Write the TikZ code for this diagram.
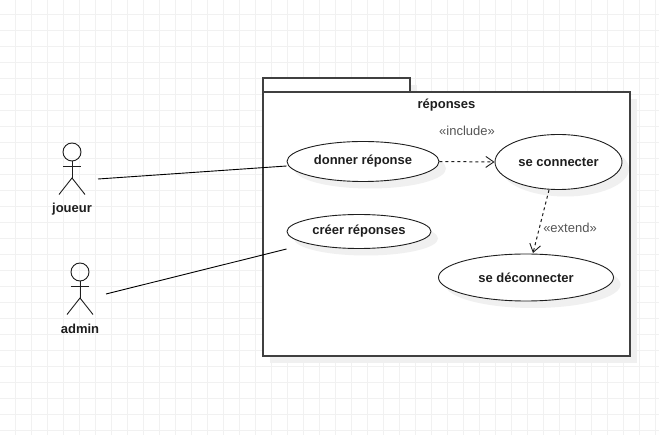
\documentclass[tikz,border=0pt]{standalone}
\usepackage{fontspec}
\setmainfont{Liberation Sans}
\usetikzlibrary{shapes.geometric,arrows.meta,shadows}
\definecolor{gridc}{HTML}{F1F1F1}
\definecolor{shad}{HTML}{F0F0F0}
\definecolor{inkc}{HTML}{1E1E1E}
\definecolor{labc}{HTML}{555555}
\tikzset{
 x=1pt,y=-1pt,
 gridline/.style={gridc,line width=1pt},
 pkg/.style={draw=inkc!85!white,line width=1.2pt,fill=white},
 softshadow/.style={drop shadow={shadow xshift=7pt,shadow yshift=-7pt,fill=shad,opacity=1}},
 usecase/.style={ellipse,draw=inkc,line width=0.9pt,fill=white,inner sep=0pt,softshadow,
   font=\fontsize{13}{15}\selectfont\bfseries,text=inkc},
 actorname/.style={font=\fontsize{13}{15}\selectfont\bfseries,text=inkc,inner sep=0pt},
 stereo/.style={font=\fontsize{13}{15}\selectfont,text=labc,inner sep=0pt},
 pkgtitle/.style={font=\fontsize{13}{15}\selectfont\bfseries,text=inkc,inner sep=0pt},
 limb/.style={draw=inkc,line width=0.9pt},
 assoc/.style={draw=black,line width=0.9pt},
 dep/.style={draw=inkc,line width=1pt,dashed,dash pattern=on 3pt off 3pt,-{Straight Barb[length=8pt,width=11pt,line width=0.9pt]}},
}
\begin{document}
\begin{tikzpicture}
\useasboundingbox (0,0) rectangle (659,435);
\fill[white] (0,0) rectangle (659,435);
\foreach \g in {15.5,31.5,...,655.5} \draw[gridline] (\g,0) -- (\g,435);
\foreach \g in {14.5,30.5,...,430.5} \draw[gridline] (0,\g) -- (659,\g);
% package
\fill[shad] (270,85) rectangle (417,99);
\fill[shad] (270,99) rectangle (637,363);
\draw[pkg] (263,78) rectangle (410,92);
\draw[pkg] (263,92) rectangle (630,356);
\node[pkgtitle] (title) at (446.5,105.5) {réponses};
% use cases
\node[usecase,minimum width=152pt,minimum height=40pt] (uc1) at (363,161.5) {donner réponse};
\node[usecase,minimum width=127pt,minimum height=55pt] (uc2) at (558.5,162) {se connecter};
\node[usecase,minimum width=144pt,minimum height=34pt] (uc3) at (359,231.5) {créer réponses};
\node[usecase,minimum width=175pt,minimum height=47pt] (uc4) at (526,277.5) {se déconnecter};
% actor joueur
\node[circle,draw=inkc,line width=0.9pt,minimum size=18pt,inner sep=0pt] (h1) at (72,152) {};
\coordinate (hip1) at (72,178);
\draw[limb] (h1.south) -- (hip1);
\coordinate (la1) at (63,166.5); \coordinate (ra1) at (81,166.5);
\draw[limb] (la1) -- (ra1);
\coordinate (ll1) at (59,194.5); \coordinate (rl1) at (85,194.5);
\draw[limb] (ll1) -- (hip1) -- (rl1);
\node[actorname] (n1) at (72,209.5) {joueur};
% actor admin
\node[circle,draw=inkc,line width=0.9pt,minimum size=18pt,inner sep=0pt] (h2) at (80,272) {};
\coordinate (hip2) at (80,298);
\draw[limb] (h2.south) -- (hip2);
\coordinate (la2) at (71,286.5); \coordinate (ra2) at (89,286.5);
\draw[limb] (la2) -- (ra2);
\coordinate (ll2) at (67,314.5); \coordinate (rl2) at (93,314.5);
\draw[limb] (ll2) -- (hip2) -- (rl2);
\node[actorname] (n2) at (80,329) {admin};
% connectors
\coordinate (j) at (98,179);
\coordinate (a) at (106,294);
\draw[assoc] (j) -- ([yshift=-4.5pt]uc1.west);
\draw[assoc] (a) -- ([yshift=-17.5pt]uc3.west);
\draw[dep] (uc1.east) -- (uc2.west);
\draw[dep] ([xshift=-9.5pt]uc2.south) -- ([xshift=7pt,yshift=0.5pt]uc4.north);
\node[stereo] (l1) at (467,131) {«include»};
\node[stereo] (l2) at (570,228) {«extend»};
\end{tikzpicture}
\end{document}
